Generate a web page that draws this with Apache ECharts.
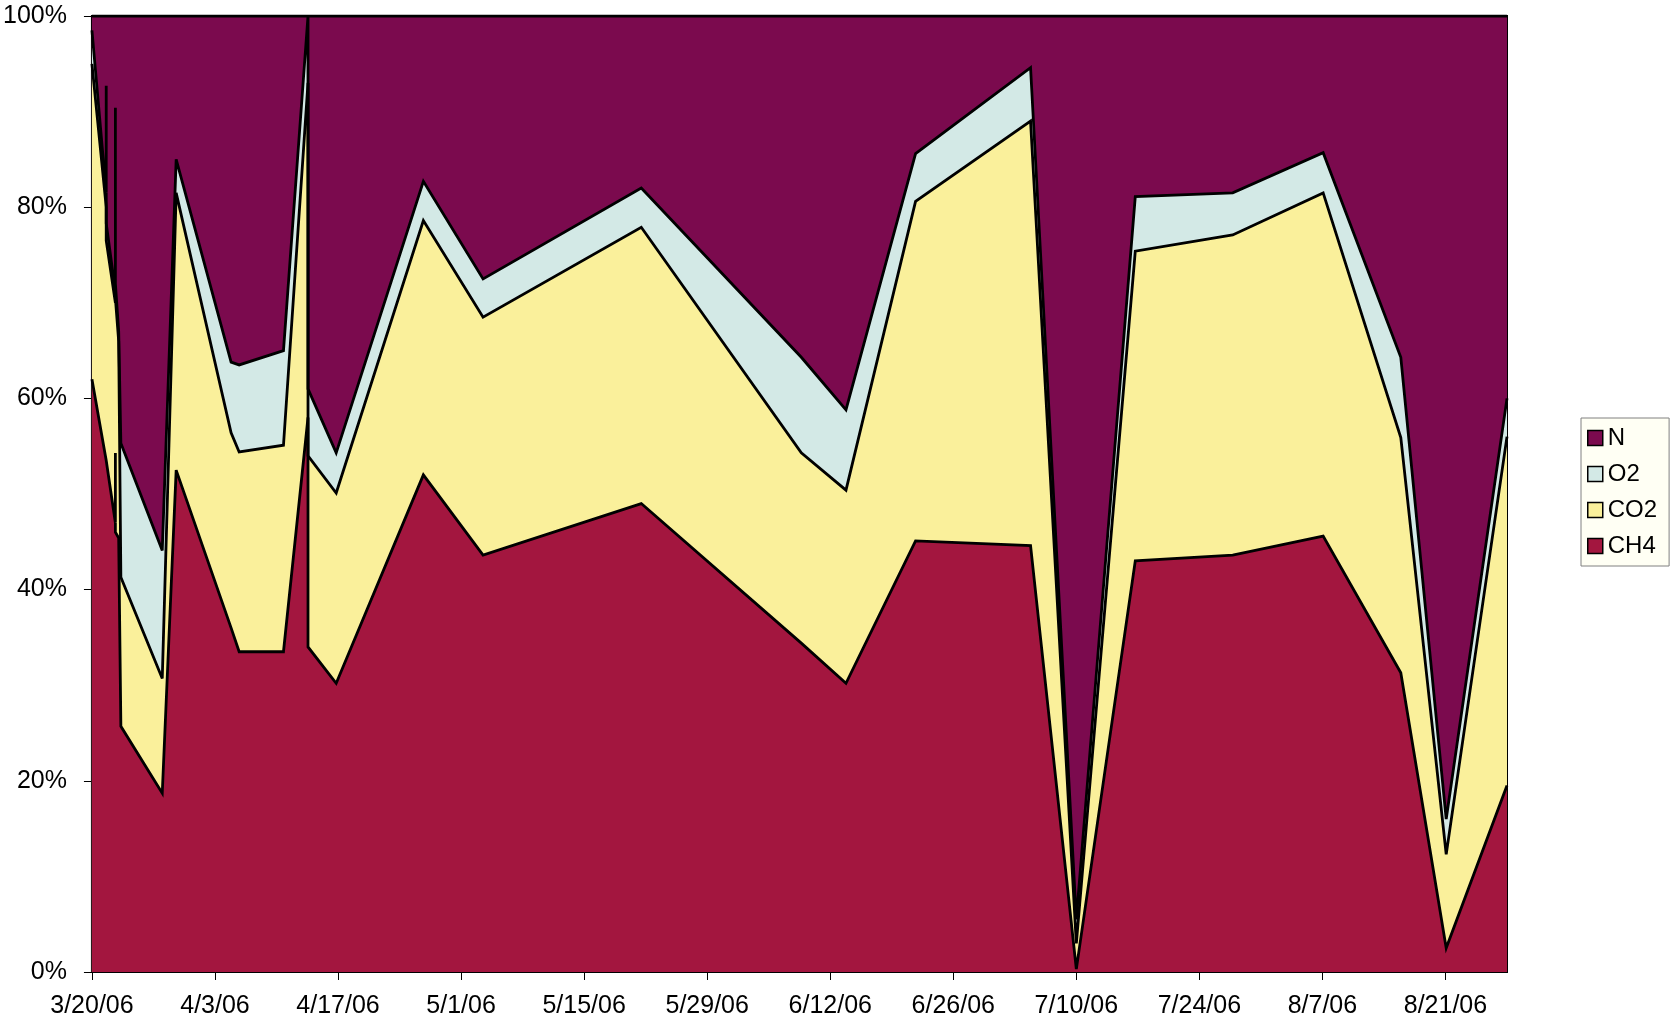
<!DOCTYPE html>
<html>
<head>
<meta charset="utf-8">
<script src="https://cdn.jsdelivr.net/npm/echarts@6/dist/echarts.min.js"></script>
<style>
html,body{margin:0;padding:0;background:#ffffff;}
#chart{width:1674px;height:1025px;}
</style>
</head>
<body>
<div id="chart"></div>
<script>
// ---- data (percent of total gas) ----
const sampleTimes = [
  '2006-03-20T00:00','2006-03-21T15:00','2006-03-21T15:00','2006-03-21T15:00',
  '2006-03-22T16:00','2006-03-22T16:00','2006-03-22T16:00','2006-03-23T01:00',
  '2006-03-23T07:00','2006-03-28T00:00','2006-03-29T14:00','2006-04-04T20:00',
  '2006-04-05T18:00','2006-04-10T19:00','2006-04-13T14:00','2006-04-13T14:00',
  '2006-04-16T19:00','2006-04-26T17:00','2006-05-03T12:00','2006-05-21T12:00',
  '2006-06-08T17:00','2006-06-13T19:00','2006-06-21T17:00','2006-07-04T19:00',
  '2006-07-10T00:00','2006-07-16T17:00','2006-07-27T19:00','2006-08-07T02:00',
  '2006-08-15T22:00','2006-08-21T02:00','2006-08-28T00:00'
];
const ch4 = [62, 53.5, 53.5, 53.5, 47, 54.3, 46, 45.4, 25.7, 18.7, 52.5, 36, 33.5, 33.5, 58, 34,
  30.2, 52, 43.6, 49, 34.4, 30.2, 45.1, 44.6, 0.3, 43, 43.6, 45.6, 31.3, 2.5, 19.5];
const co2 = [33, 26.5, 26.5, 23, 23, 15.7, 24.5, 20.6, 15.6, 12, 29, 20.4, 20.9, 21.6, 35, 20,
  19.9, 26.6, 24.9, 28.9, 19.9, 20.2, 35.5, 44.4, 2.7, 32.4, 33.5, 35.9, 24.6, 9.8, 36.5];
const o2 = [3.5, 1.5, 12.7, 1.8, 1.2, 20.4, 1.5, 1, 14, 13.4, 3.5, 7.4, 9.1, 9.9, 7, 7,
  4.2, 4.1, 4, 4.1, 10, 8.4, 5, 5.6, 2.5, 5.7, 4.4, 4.2, 8.4, 3.7, 4];
const nitrogen = [1.5, 18.5, 7.3, 21.7, 28.8, 9.6, 28, 33, 44.7, 55.9, 15, 36.2, 36.5, 35, 0, 39,
  45.7, 17.3, 27.5, 18, 35.7, 41.2, 14.4, 5.4, 94.5, 18.9, 18.5, 14.3, 35.7, 84, 40];

const stackOrder = ['CH4', 'CO2', 'O2', 'N'];   // bottom to top
const legendOrder = ['N', 'O2', 'CO2', 'CH4'];
const axisStart = '2006-03-20';
const axisEnd = '2006-08-28';
const tickDays = 14;
const yTicks = [0, 20, 40, 60, 80, 100];

// ---- build ----
function parseUTC(s) {
  const m = s.match(/(\d+)-(\d+)-(\d+)(?:T(\d+):(\d+))?/);
  return Date.UTC(+m[1], +m[2] - 1, +m[3], +(m[4] || 0), +(m[5] || 0));
}
const DAY = 86400000;
const base = parseUTC(axisStart);
const dayOf = s => (parseUTC(s) - base) / DAY;
const xs = sampleTimes.map(dayOf);

const valuesByName = { CH4: ch4, CO2: co2, O2: o2, N: nitrogen };
const fills = { CH4: '#A3163F', CO2: '#FAF09B', O2: '#D3E9E6', N: '#7B0A4E' };

// cumulative (100% stacked) tops, built from the component arrays
const tops = {};
let running = xs.map(() => 0);
stackOrder.forEach(name => {
  running = running.map((r, i) => r + valuesByName[name][i]);
  tops[name] = running.map((v, i) => [xs[i], Math.min(100, Math.round(v * 1000) / 1000)]);
});

// draw top layer first so lower layers paint over it
const drawOrder = stackOrder.slice().reverse();
const areaSeries = drawOrder.map(name => ({
  name: name,
  type: 'line',
  data: tops[name],
  showSymbol: false,
  symbol: 'none',
  lineStyle: { width: 0 },
  itemStyle: { color: fills[name] },
  areaStyle: { color: fills[name], opacity: 1, origin: 'start' },
  z: 2,
  animation: false
}));
const outlineSeries = drawOrder.map(name => ({
  name: name + ' outline',
  type: 'line',
  data: tops[name],
  showSymbol: false,
  symbol: 'none',
  silent: true,
  lineStyle: { width: 2.8, color: '#000000', join: 'miter', miterLimit: 4 },
  z: 3,
  animation: false
}));

const font = 'Liberation Sans, Arial, sans-serif';
const chart = echarts.init(document.getElementById('chart'), null, { renderer: 'canvas' });
chart.setOption({
  animation: false,
  backgroundColor: '#ffffff',
  grid: {
    left: 91, top: 16, width: 1416, height: 956,
    show: true, borderColor: '#000000', borderWidth: 2, backgroundColor: 'transparent'
  },
  legend: {
    data: legendOrder,
    orient: 'vertical',
    left: 1581, top: 418,
    padding: [8, 12, 8, 6],
    backgroundColor: '#FFFFF4',
    borderColor: '#808080',
    borderWidth: 1,
    borderRadius: 0,
    icon: 'rect',
    itemWidth: 15, itemHeight: 15, itemGap: 12,
    itemStyle: { borderColor: '#000000', borderWidth: 1.5 },
    textStyle: { fontSize: 24, color: '#000000', fontFamily: font }
  },
  xAxis: {
    type: 'value',
    min: 0,
    max: dayOf(axisEnd),
    interval: tickDays,
    splitLine: { show: false },
    axisLine: { show: true, onZero: false, lineStyle: { color: '#000000', width: 2 } },
    axisTick: { show: true, inside: false, length: 8, lineStyle: { color: '#000000', width: 1 } },
    axisLabel: {
      fontSize: 25, color: '#000000', fontFamily: font, margin: 22, showMaxLabel: false,
      formatter: v => {
        if (Math.abs(v % tickDays) > 1e-6) return '';
        const d = new Date(base + v * DAY);
        return (d.getUTCMonth() + 1) + '/' + d.getUTCDate() + '/' + String(d.getUTCFullYear()).slice(2);
      }
    }
  },
  yAxis: {
    type: 'value',
    min: yTicks[0],
    max: yTicks[yTicks.length - 1],
    interval: yTicks[1] - yTicks[0],
    splitLine: { show: false },
    axisLine: { show: true, lineStyle: { color: '#000000', width: 2 } },
    axisTick: { show: true, inside: false, length: 8, lineStyle: { color: '#000000', width: 1 } },
    axisLabel: { fontSize: 25, color: '#000000', fontFamily: font, margin: 25, formatter: '{value}%' }
  },
  series: areaSeries.concat(outlineSeries)
});
</script>
</body>
</html>
